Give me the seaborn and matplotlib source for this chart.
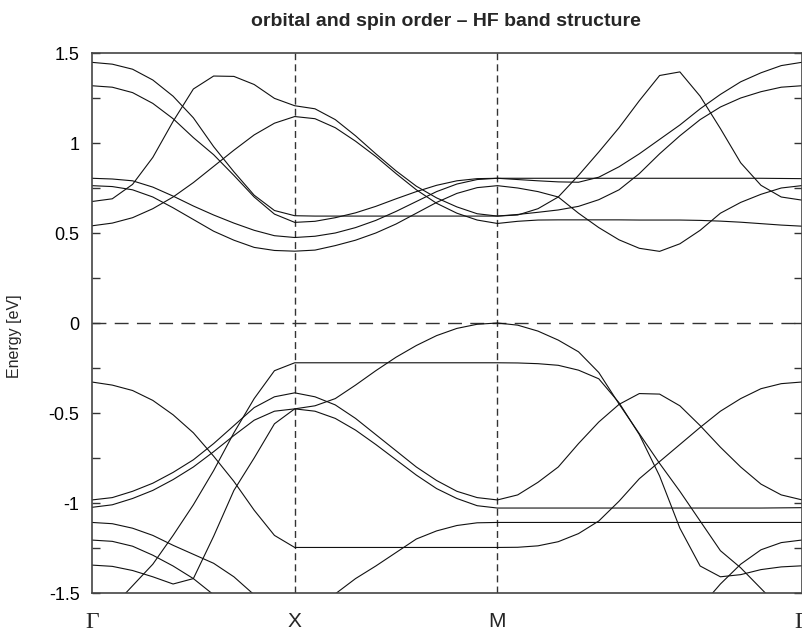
import numpy as np
import pandas as pd
import matplotlib
matplotlib.use("Agg")
import matplotlib.pyplot as plt
import seaborn as sns

nan = np.nan

# k-path positions (Gamma=0, X=1, M=2, Gamma=3.5)
k_path = [0.0, 0.1, 0.2, 0.3, 0.4, 0.5, 0.6, 0.7, 0.8, 0.9, 1.0,
          1.1, 1.2, 1.3, 1.4, 1.5, 1.6, 1.7, 1.8, 1.9, 2.0,
          2.1, 2.2, 2.3, 2.4, 2.5, 2.6, 2.7, 2.8, 2.9, 3.0, 3.1, 3.2, 3.3, 3.4, 3.5]
k_labels = ["Γ", "X", "M", "Γ"]
k_label_pos = [0.0, 1.0, 2.0, 3.5]

# unoccupied bands (eV)
band_u1 = [1.448, 1.438, 1.41, 1.35, 1.26, 1.14, 0.98, 0.84, 0.71, 0.625, 0.596,
           0.594, 0.594, 0.594, 0.594, 0.594, 0.594, 0.594, 0.594, 0.594, 0.594,
           0.603, 0.615, 0.628, 0.648, 0.685, 0.74, 0.83, 0.94, 1.04, 1.13, 1.20, 1.25, 1.285, 1.31, 1.318]
band_u2 = [1.318, 1.31, 1.28, 1.22, 1.135, 1.03, 0.935, 0.82, 0.70, 0.605, 0.559,
           0.565, 0.585, 0.612, 0.648, 0.69, 0.73, 0.765, 0.79, 0.802, 0.804,
           0.804, 0.804, 0.804, 0.804, 0.804, 0.804, 0.804, 0.804, 0.804, 0.804, 0.804, 0.804, 0.804, 0.803, 0.802]
band_u3 = [0.804, 0.80, 0.79, 0.755, 0.705, 0.65, 0.60, 0.555, 0.515, 0.485, 0.475,
           0.482, 0.50, 0.53, 0.57, 0.62, 0.675, 0.73, 0.772, 0.797, 0.804,
           0.797, 0.79, 0.784, 0.782, 0.81, 0.868, 0.94, 1.02, 1.10, 1.19, 1.27, 1.34, 1.39, 1.43, 1.448]
band_u4 = [0.763, 0.758, 0.74, 0.70, 0.64, 0.575, 0.51, 0.46, 0.42, 0.403, 0.399,
           0.405, 0.43, 0.46, 0.50, 0.55, 0.61, 0.67, 0.72, 0.752, 0.763,
           0.75, 0.73, 0.70, 0.61, 0.53, 0.462, 0.415, 0.398, 0.44, 0.515, 0.61, 0.67, 0.715, 0.75, 0.763]
band_u5 = [0.675, 0.69, 0.77, 0.92, 1.12, 1.30, 1.372, 1.37, 1.325, 1.248, 1.207,
           1.19, 1.13, 1.04, 0.94, 0.845, 0.76, 0.695, 0.645, 0.607, 0.594,
           0.60, 0.635, 0.70, 0.82, 0.95, 1.085, 1.235, 1.375, 1.395, 1.26, 1.08, 0.89, 0.765, 0.70, 0.683]
band_u6 = [0.54, 0.555, 0.585, 0.635, 0.70, 0.78, 0.87, 0.96, 1.045, 1.11, 1.147,
           1.135, 1.085, 1.01, 0.925, 0.83, 0.74, 0.665, 0.61, 0.572, 0.553,
           0.565, 0.572, 0.573, 0.573, 0.573, 0.573, 0.572, 0.572, 0.572, 0.57, 0.566, 0.56, 0.552, 0.544, 0.538]

# occupied bands (eV)
band_l1 = [-0.328, -0.345, -0.375, -0.43, -0.51, -0.61, -0.74, -0.88, -1.04, -1.18, -1.247,
           -1.247, -1.247, -1.247, -1.247, -1.247, -1.247, -1.247, -1.247, -1.247, -1.247,
           -1.246, -1.238, -1.215, -1.17, -1.10, -0.99, -0.865, -0.77, -0.675, -0.58, -0.49, -0.42, -0.365, -0.337, -0.328]
band_l2 = [nan, -1.58, -1.46, -1.34, -1.18, -1.01, -0.82, -0.61, -0.42, -0.265, -0.221,
           -0.221, -0.221, -0.221, -0.221, -0.221, -0.221, -0.221, -0.221, -0.221, -0.221,
           -0.222, -0.226, -0.235, -0.262, -0.31, -0.443, -0.62, -0.85, -1.14, -1.35, -1.41, -1.398, -1.37, -1.355, -1.349]
band_l3 = [-0.983, -0.97, -0.935, -0.89, -0.83, -0.76, -0.67, -0.57, -0.47, -0.41, -0.388,
           -0.41, -0.455, -0.53, -0.62, -0.71, -0.80, -0.875, -0.935, -0.97, -0.983,
           -0.955, -0.885, -0.80, -0.67, -0.55, -0.452, -0.392, -0.395, -0.46, -0.57, -0.69, -0.80, -0.895, -0.955, -0.982]
band_l4 = [-1.345, -1.352, -1.375, -1.41, -1.45, -1.42, -1.185, -0.93, -0.75, -0.56, -0.477,
           -0.46, -0.42, -0.345, -0.265, -0.19, -0.125, -0.07, -0.03, -0.007, 0.0,
           -0.012, -0.045, -0.095, -0.16, -0.275, -0.45, -0.615, -0.78, -0.935, -1.10, -1.265, -1.36, -1.475, -1.59, nan]
band_l5 = [-1.024, -1.01, -0.975, -0.93, -0.87, -0.80, -0.715, -0.625, -0.54, -0.49, -0.477,
           -0.49, -0.53, -0.595, -0.675, -0.76, -0.845, -0.92, -0.975, -1.015, -1.028,
           -1.028, -1.028, -1.028, -1.028, -1.028, -1.028, -1.028, -1.028, -1.028, -1.028, -1.028, -1.028, -1.028, -1.027, -1.026]
band_l6 = [-1.108, -1.115, -1.14, -1.18, -1.235, -1.285, -1.335, -1.41, -1.51, -1.62, nan,
           -1.6, -1.505, -1.42, -1.35, -1.275, -1.20, -1.155, -1.125, -1.11, -1.108,
           -1.108, -1.108, -1.108, -1.108, -1.108, -1.108, -1.108, -1.108, -1.108, -1.108, -1.108, -1.108, -1.108, -1.108, -1.108]
band_l7 = [-1.206, -1.213, -1.24, -1.29, -1.35, -1.42, -1.51, -1.6, nan, nan, nan,
           nan, nan, nan, nan, nan, nan, nan, nan, nan, nan,
           nan, nan, nan, nan, nan, nan, nan, nan, nan, -1.58, -1.45, -1.34, -1.26, -1.22, -1.206]

y_ticks = [-1.5, -1.25, -1.0, -0.75, -0.5, -0.25, 0.0, 0.25, 0.5, 0.75, 1.0, 1.25, 1.5]
y_tick_labels = ["-1.5", "", "-1", "", "-0.5", "", "0", "", "0.5", "", "1", "", "1.5"]

bands = {"u1": band_u1, "u2": band_u2, "u3": band_u3, "u4": band_u4, "u5": band_u5, "u6": band_u6,
         "l1": band_l1, "l2": band_l2, "l3": band_l3, "l4": band_l4, "l5": band_l5, "l6": band_l6,
         "l7": band_l7}

rows = []
for name, vals in bands.items():
    seg = 0
    for kk, e in zip(k_path, vals):
        if np.isnan(e):
            seg += 1
            continue
        rows.append({"k": kk, "E": e, "seg": f"{name}_{seg}"})
df = pd.DataFrame(rows)

sns.set_theme(style="white")
plt.rcParams["font.family"] = ["Liberation Sans", "DejaVu Sans"]

fig = plt.figure(figsize=(8.02, 6.37), dpi=100)
ax = fig.add_axes([92 / 802, 44 / 637, 709.5 / 802, 540 / 637])

sns.lineplot(data=df, x="k", y="E", units="seg", estimator=None, sort=False,
             color="#111111", linewidth=0.8, legend=False, ax=ax)

for kv in k_label_pos[1:3]:
    ax.axvline(kv, color="#333333", lw=1.0, dashes=(5, 3), zorder=1)
ax.axhline(0.0, color="#333333", lw=1.0, dashes=(10, 6), zorder=1)

ax.set_xlim(0, 3.5)
ax.set_ylim(-1.5, 1.5)
ax.set_yticks(y_ticks)
ax.set_yticklabels(y_tick_labels)
ax.tick_params(axis="y", direction="in", length=6, width=1, color="#333333",
               labelsize=13, pad=9, right=True, left=True, labelcolor="black")
ax.set_xticks(k_label_pos)
ax.set_xticklabels(k_labels)
ax.tick_params(axis="x", length=0, labelsize=15, pad=14)
for lab in ax.get_xticklabels():
    if lab.get_text() == "Γ":
        lab.set_fontfamily(["Liberation Serif", "DejaVu Serif"])
        lab.set_fontsize(17)
ax.set_xlabel("")
ax.set_ylabel("")

for s in ax.spines.values():
    s.set_visible(True)
    s.set_color("#444444")
    s.set_linewidth(1.2)

fig.text(446 / 802, 1 - 22 / 637, "orbital and spin order – HF band structure",
         ha="center", va="center", fontsize=14, fontweight="bold",
         family=["Liberation Sans", "DejaVu Sans"])
fig.text(15 / 802, 1 - 336 / 637, "Energy [eV]", rotation=90, ha="center", va="center",
         fontsize=11.5, family=["Liberation Sans", "DejaVu Sans"])

fig.savefig("out.png", dpi=100)
